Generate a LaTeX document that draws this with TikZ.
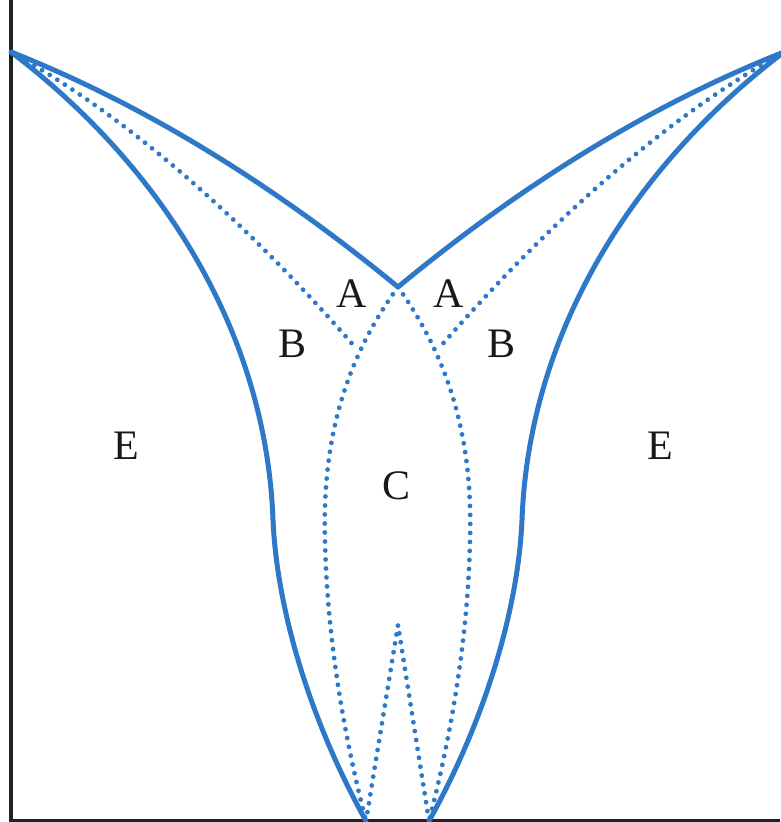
\documentclass[tikz,border=0pt]{standalone}
\usepackage{fontspec}
\setmainfont{Liberation Serif}
\definecolor{curveblue}{RGB}{46,120,200}
\definecolor{axisgray}{RGB}{34,34,34}
\begin{document}
\begin{tikzpicture}[x=1pt,y=-1pt,
  solidcurve/.style={draw=curveblue,line width=5pt,line join=round},
  dotcurve/.style={draw=curveblue,line width=4.8pt,line cap=round,dash pattern=on 0pt off 9pt},
  axisline/.style={draw=axisgray,line width=3.2pt},
  lab/.style={anchor=base,inner sep=0pt,font=\fontsize{42}{42}\selectfont,text=black!90}]
\useasboundingbox (0,0) rectangle (780,822);
% key points
\coordinate (TL) at (11,52);
\coordinate (TR) at (784,52);
\coordinate (V) at (398,287);
\coordinate (BL) at (366,821);
\coordinate (BR) at (429,821);
\coordinate (PK) at (398,625);
\coordinate (XL) at (355,347);
\coordinate (XR) at (440,347);
\coordinate (ML) at (273,520);
\coordinate (MR) at (522,520);
\coordinate (CL) at (325,540);
\coordinate (CR) at (470,540);
\coordinate (AxT) at (11,0);
\coordinate (AxO) at (11,821);
\coordinate (AxR) at (780,821);
% axes
\draw[axisline] (AxT) -- (AxO) -- (AxR);
% top solid curves
\draw[solidcurve] (TL) .. controls (140,103) and (269,181) .. (V)
  .. controls (526,181) and (655,103) .. (TR);
% outer solid curves
\draw[solidcurve] (TL) .. controls (160,165) and (266,330) .. (ML)
  .. controls (277,610) and (310,720) .. (BL);
\draw[solidcurve] (TR) .. controls (635,165) and (529,330) .. (MR)
  .. controls (518,610) and (485,720) .. (BR);
% dotted diagonals (B boundaries)
\draw[dotcurve] (TL) .. controls (124,115) and (238,213) .. (XL);
\draw[dotcurve] (TR) .. controls (671,115) and (557,213) .. (XR);
% dotted C boundaries
\draw[dotcurve] (V) .. controls (345,360) and (322,440) .. (CL)
  .. controls (327,640) and (345,740) .. (BL);
\draw[dotcurve] (V) .. controls (450,360) and (473,440) .. (CR)
  .. controls (468,640) and (450,740) .. (BR);
% inner peak
\draw[dotcurve] (BL) -- (PK) -- (BR);
% labels
\node[lab] (a1) at (352,307) {A};
\node[lab] (a2) at (449,307) {A};
\node[lab] (b1) at (293,357) {B};
\node[lab] (b2) at (502,357) {B};
\node[lab] (e1) at (126,459) {E};
\node[lab] (e2) at (660,459) {E};
\node[lab] (c1) at (397,499) {C};
\end{tikzpicture}
\end{document}
